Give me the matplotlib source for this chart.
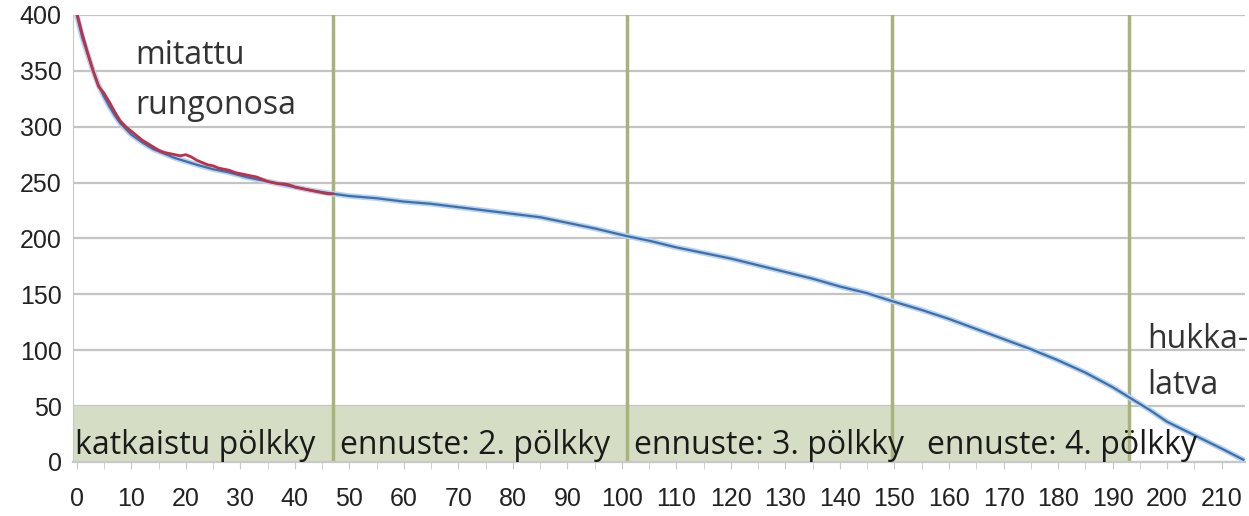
import matplotlib
matplotlib.use("Agg")
import matplotlib.pyplot as plt
from matplotlib.ticker import MultipleLocator

plt.rcParams["font.family"] = ["Liberation Sans", "DejaVu Sans"]

# Predicted stem profile (blue)
pred_x = [0, 1, 2, 3, 4, 5, 6, 7, 8, 10, 12, 14, 16, 18, 20, 22, 25, 28, 31, 34, 37, 40, 43, 47,
          50, 55, 60, 65, 70, 75, 80, 85, 90, 95, 101, 105, 110, 115, 120, 125, 130, 135, 140,
          145, 149.5, 155, 160, 165, 170, 175, 180, 185, 190, 193, 197, 200, 205, 210, 214]
pred_y = [400, 380, 365, 350, 337, 327, 318, 310, 303, 293, 286, 280, 276, 272, 269, 266, 262,
          259, 255, 252, 249, 246, 243, 240, 238, 236, 233, 231, 228, 225, 222, 219, 214, 209,
          202, 198, 192, 187, 182, 176, 170, 164, 157, 151, 144, 136, 128, 119, 110, 101, 91,
          80, 67, 58, 46, 36, 24, 12, 2]

# Measured stem part (red)
meas_x = list(range(0, 48))
meas_y = [402, 383, 366, 350, 336, 330, 322, 313, 305, 300, 296, 292, 288, 285, 282, 279, 277,
          276, 275, 274, 275, 273, 270, 268, 266, 265, 263, 262, 261, 259, 258, 257, 256, 255,
          253, 251, 250, 249, 249, 248, 246, 245, 244, 243, 242, 241, 240, 240]

# Cut positions
cuts = [47, 101, 149.5, 193]
band_top = 50
log_labels = ["katkaistu pölkky", "ennuste: 2. pölkky", "ennuste: 3. pölkky", "ennuste: 4. pölkky"]

fig = plt.figure(figsize=(12.49, 5.16), dpi=100)
ax = fig.add_axes([0.0584, 0.1047, 0.9384, 0.8663])

ax.set_xlim(-0.7, 214.3)
ax.set_ylim(0, 400)

ax.yaxis.set_major_locator(MultipleLocator(50))
ax.xaxis.set_major_locator(MultipleLocator(10))
ax.xaxis.set_minor_locator(MultipleLocator(5))
ax.grid(axis="y", color="#c4c4c4", linewidth=1.6, zorder=0)
ax.set_axisbelow(True)

for s in ["top", "right"]:
    ax.spines[s].set_visible(False)
ax.spines["left"].set_color("#c8c8c8")
ax.spines["bottom"].set_color("#c8c8c8")
ax.spines["bottom"].set_linewidth(1.6)

ax.tick_params(axis="y", length=0, labelsize=18, pad=8, colors="#222222")
ax.tick_params(axis="x", which="both", length=5, color="#c8c8c8", labelsize=18, pad=13,
               labelcolor="#222222")

# green band
ax.fill_between([-0.7, cuts[-1]], 0, band_top, color="#d5dec4", zorder=1, linewidth=0)

for c in cuts:
    ax.axvline(c, color="#a8b37c", linewidth=2.5, zorder=2)

ax.plot(pred_x, pred_y, color="#b9d3ee", linewidth=4, zorder=3, solid_capstyle="round")
ax.plot(pred_x, pred_y, color="#3c6fae", linewidth=1.6, zorder=4)
ax.plot(meas_x, meas_y, color="#c03048", linewidth=2, zorder=5)

fs = 23
fam = "Open Sans"
starts = [-0.4, 48.2, 102.2, 155.9]
for xs, t in zip(starts, log_labels):
    ax.text(xs, 15, t, fontsize=fs, family=fam, color="#1a1a1a", va="center", ha="left", zorder=6)

ax.text(10.8, 364, "mitattu", fontsize=fs, family=fam, color="#333333", va="center", ha="left")
ax.text(10.8, 319, "rungonosa", fontsize=fs, family=fam, color="#333333", va="center", ha="left")
ax.text(196.3, 110, "hukka-", fontsize=fs, family=fam, color="#333333", va="center", ha="left")
ax.text(196.3, 68, "latva", fontsize=fs, family=fam, color="#333333", va="center", ha="left")

fig.savefig("out.png", dpi=100)
